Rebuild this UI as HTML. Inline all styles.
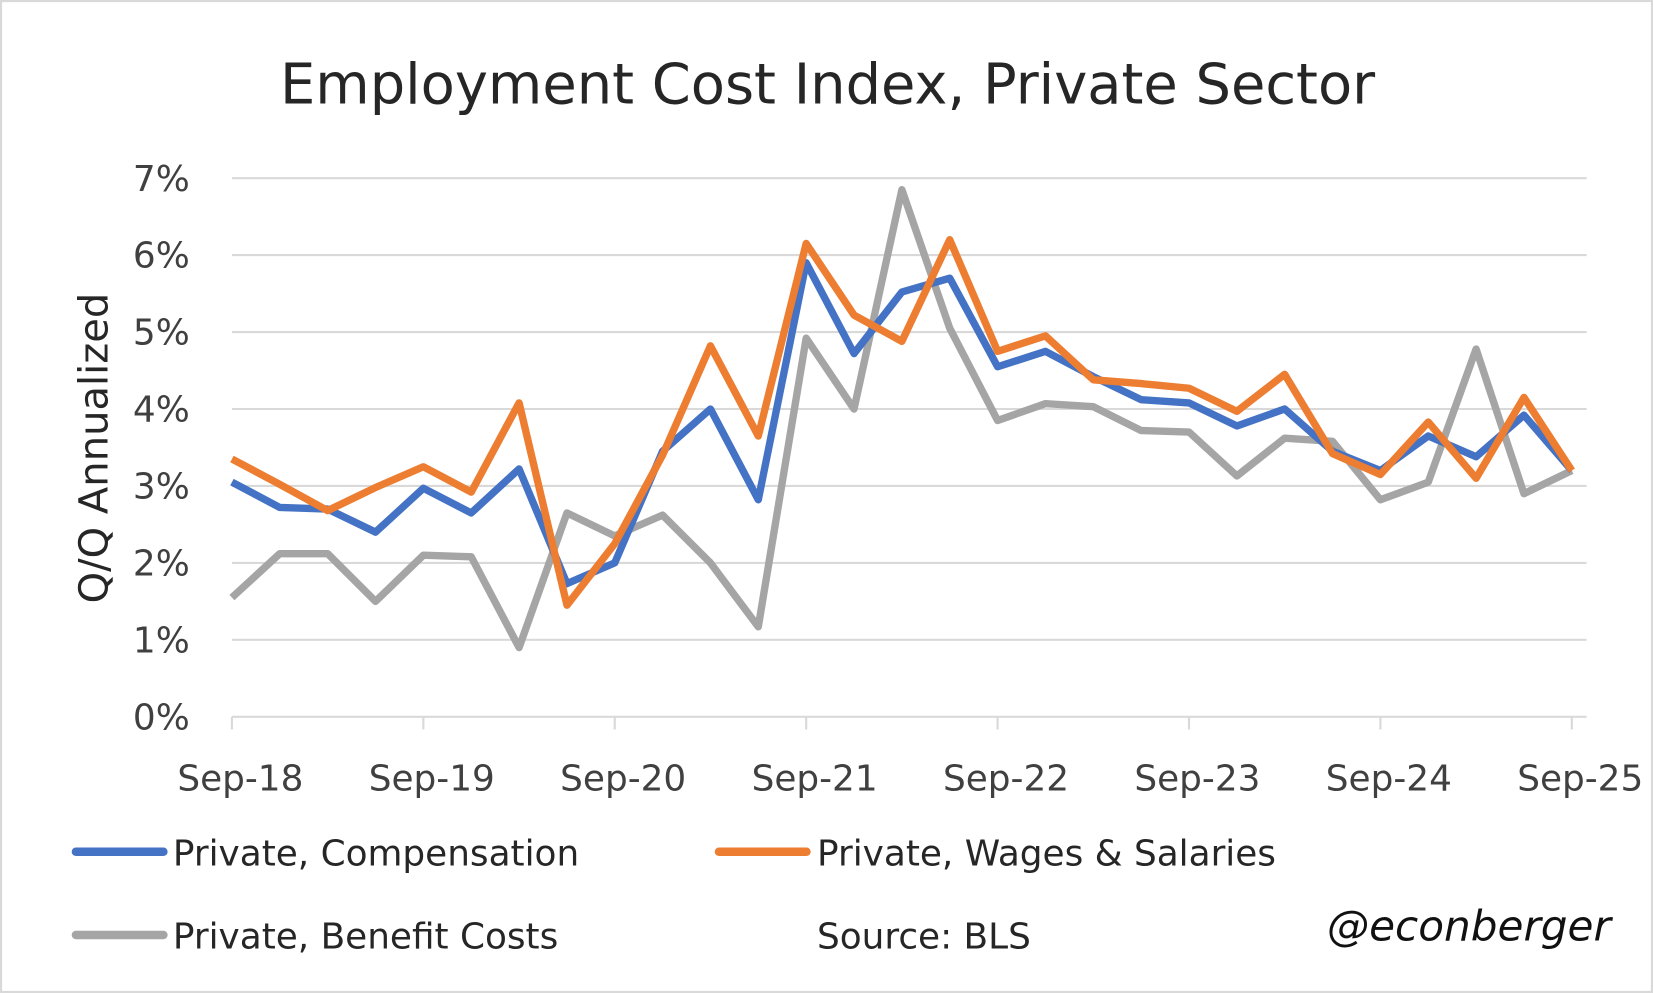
<!DOCTYPE html>
<html><head><meta charset="utf-8"><style>
html,body{margin:0;padding:0;background:#fff;}
svg{display:block;font-family:"DejaVu Sans","Liberation Sans",sans-serif;}
</style></head><body>
<svg id="chart" width="1653" height="993" viewBox="0 0 1568 942" preserveAspectRatio="none">
<rect x="1" y="1" width="1566" height="940" fill="#fff" stroke="#d9d9d9" stroke-width="2"/>
<text x="785" y="98" text-anchor="middle" font-size="53" fill="#262626">Employment Cost Index, Private Sector</text>
<g id="grid"></g>
<g id="yticks"></g>
<g id="xticks"></g>
<text transform="translate(102,425) rotate(-90)" text-anchor="middle" font-size="38" fill="#262626">Q/Q Annualized</text>
<g id="series"></g>
<g>
<line x1="72" y1="808" x2="155" y2="808" stroke="#4472C4" stroke-width="8" stroke-linecap="round"/>
<text x="164" y="821" font-size="34" fill="#262626">Private, Compensation</text>
<line x1="682" y1="808" x2="765" y2="808" stroke="#ED7D31" stroke-width="8" stroke-linecap="round"/>
<text x="775" y="821" font-size="34" fill="#262626">Private, Wages &amp; Salaries</text>
<line x1="72" y1="887" x2="155" y2="887" stroke="#A5A5A5" stroke-width="8" stroke-linecap="round"/>
<text x="164" y="900" font-size="34" fill="#262626">Private, Benefit Costs</text>
</g>
<text x="775" y="900" font-size="34" fill="#262626">Source: BLS</text>
<text x="1528" y="892" text-anchor="end" font-size="40" font-style="italic" fill="#111">@econberger</text>
</svg>
<script>
const yTickLabels = ["0%","1%","2%","3%","4%","5%","6%","7%"];
const xTickLabels = ["Sep-18","Sep-19","Sep-20","Sep-21","Sep-22","Sep-23","Sep-24","Sep-25"];
const compensation = [3.05,2.72,2.70,2.40,2.97,2.65,3.22,1.73,2.00,3.45,4.00,2.82,5.90,4.72,5.52,5.70,4.55,4.75,4.42,4.12,4.08,3.78,4.00,3.45,3.20,3.65,3.38,3.92,3.20];
const wages = [3.35,3.02,2.68,2.98,3.25,2.92,4.08,1.45,2.25,3.40,4.82,3.65,6.15,5.22,4.88,6.20,4.75,4.95,4.38,4.33,4.27,3.97,4.45,3.42,3.15,3.83,3.10,4.15,3.20];
const benefits = [1.55,2.12,2.12,1.50,2.10,2.08,0.90,2.65,2.35,2.62,2.00,1.17,4.92,4.00,6.85,5.05,3.85,4.07,4.03,3.72,3.70,3.13,3.62,3.58,2.82,3.05,4.78,2.90,3.20];

const NS="http://www.w3.org/2000/svg";
const x0=220, x1=1491, y0=680, yPer=73;
const n=compensation.length;
function xScale(i){return x0+(x1-x0)*i/(n-1);}
function yScale(v){return y0-v*yPer;}
function mk(tag,attrs,parent){const e=document.createElementNS(NS,tag);for(const k in attrs)e.setAttribute(k,attrs[k]);parent.appendChild(e);return e;}
const grid=document.getElementById('grid'), yt=document.getElementById('yticks'), xt=document.getElementById('xticks'), ser=document.getElementById('series');
yTickLabels.forEach((lab,i)=>{
  const y=yScale(i);
  if(i>0){const l=mk('line',{x1:x0,x2:1505,y1:y,y2:y,stroke:'#d9d9d9','stroke-width':2},grid);
  
  }
  const t=mk('text',{x:180,y:y+12,'text-anchor':'end','font-size':34,fill:'#404040'},yt);
  t.textContent=lab;
  
  
});
const ax=mk('line',{x1:x0,x2:1505,y1:y0,y2:y0,stroke:'#d9d9d9','stroke-width':2},xt);


xTickLabels.forEach((lab,i)=>{
  const x=xScale(i*4);
  const tk=mk('line',{x1:x,x2:x,y1:y0,y2:y0+12,stroke:'#d9d9d9','stroke-width':2},xt);
  
  
  const t=mk('text',{x:x+8,y:750,'text-anchor':'middle','font-size':34,fill:'#404040'},xt);
  t.textContent=lab;
  
  
});
function drawLine(vals,color,name){
  const pts=vals.map((v,i)=>xScale(i).toFixed(1)+','+yScale(v).toFixed(1)).join(' ');
  const p=mk('polyline',{points:pts,fill:'none',stroke:color,'stroke-width':7,'stroke-linejoin':'round'},ser);
  
  
}
drawLine(benefits,'#A5A5A5','line-benefit-costs');
drawLine(compensation,'#4472C4','line-compensation');
drawLine(wages,'#ED7D31','line-wages-salaries');
</script>
</body></html>
